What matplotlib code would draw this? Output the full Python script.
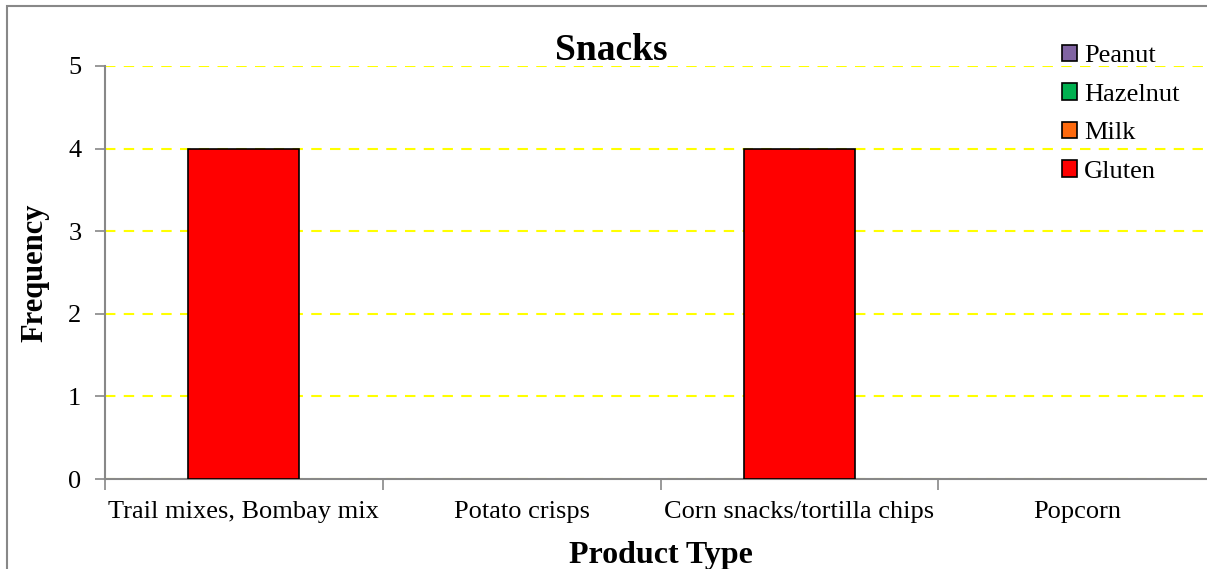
import matplotlib
matplotlib.use("Agg")
import matplotlib.pyplot as plt
from matplotlib.patches import Rectangle
import numpy as np

categories = ["Trail mixes, Bombay mix", "Potato crisps", "Corn snacks/tortilla chips", "Popcorn"]
gluten = [4, 0, 4, 0]
milk = [0, 0, 0, 0]
hazelnut = [0, 0, 0, 0]
peanut = [0, 0, 0, 0]

series = [("Gluten", gluten, "#ff0000"),
          ("Milk", milk, "#ff6a0e"),
          ("Hazelnut", hazelnut, "#00b050"),
          ("Peanut", peanut, "#8064a2")]

plt.rcParams["font.family"] = ["Liberation Serif", "DejaVu Serif"]

W, H = 1207, 569
fig = plt.figure(figsize=(W / 100, H / 100), dpi=100)

# outer chart frame
fig.patches.append(Rectangle((7 / W, -0.05), 1.1, 1 - 6 / H + 0.05,
                             transform=fig.transFigure, fill=False,
                             edgecolor="#888888", linewidth=1.5, zorder=0))

ax = fig.add_axes([105 / W, 90 / H, 1111 / W, 413 / H])
x = np.arange(len(categories))
bottom = np.zeros(len(categories))
for name, vals, color in series:
    vals = np.array(vals, dtype=float)
    edges = ["black" if v > 0 else "none" for v in vals]
    ax.bar(x, vals, width=0.4, bottom=bottom, color=color,
           edgecolor=edges, linewidth=1.2, label=name, zorder=3)
    bottom += vals

ax.set_xlim(-0.5, len(categories) - 0.5)
ax.set_ylim(0, 5)
ax.set_yticks(range(0, 6))
ax.tick_params(axis="y", labelsize=19, length=7, color="#888888", width=1.2, pad=10)
ax.yaxis.grid(True, color="#ffff00", linestyle=(0, (5, 4)), linewidth=1.5, zorder=1)
ax.set_axisbelow(True)

# category boundaries as major ticks, labels on minor ticks
ax.set_xticks(np.arange(-0.5, len(categories) + 0.5, 1.0))
ax.set_xticklabels([])
ax.set_xticks(x, minor=True)
ax.set_xticklabels(categories, minor=True, fontsize=19)
ax.tick_params(axis="x", which="major", length=8, color="#888888", width=1.2)
ax.tick_params(axis="x", which="minor", length=0, pad=16)

for side in ("top", "right"):
    ax.spines[side].set_visible(False)
for side in ("left", "bottom"):
    ax.spines[side].set_color("#888888")
    ax.spines[side].set_linewidth(1.5)

ax.set_ylabel("Frequency", fontsize=22, fontweight="bold")
ax.yaxis.set_label_coords((35 - 105) / 1111, 0.5)
ax.set_xlabel("Product Type", fontsize=23, fontweight="bold")
ax.xaxis.set_label_coords(0.5, (479 - 556) / 413)
ax.xaxis.label.set_va("center")
ax.yaxis.label.set_va("center")
fig.text(611 / W, 1 - 50 / H, "Snacks", fontsize=27, fontweight="bold",
         ha="center", va="center")

legend_handles = [Rectangle((0, 0), 1, 1, facecolor=c, edgecolor="black", linewidth=1.2)
                  for _, _, c in series][::-1]
fig.legend(legend_handles, [s[0] for s in series][::-1],
           loc="upper left", bbox_to_anchor=(1051 / W, 1 - 34 / H),
           frameon=False, fontsize=19, handlelength=0.6, handleheight=0.6,
           handletextpad=0.25, labelspacing=0.6, borderaxespad=0)

fig.savefig("out.png", dpi=100)
